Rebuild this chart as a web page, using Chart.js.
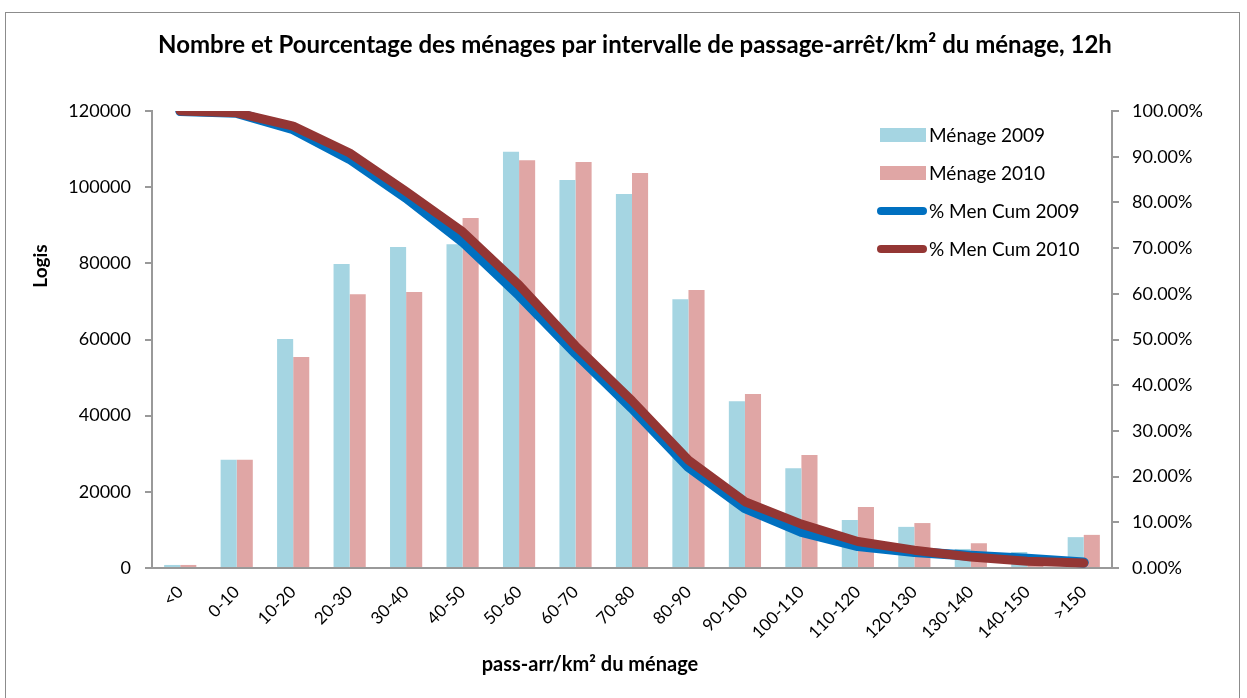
<!DOCTYPE html>
<html>
<head>
<meta charset="utf-8">
<script src="https://cdn.jsdelivr.net/npm/chart.js@4.4.1/dist/chart.umd.min.js"></script>
<style>
  html, body { margin: 0; padding: 0; background: #fff; }
  #wrap { position: relative; width: 1247px; height: 698px; overflow: hidden; }
  #frame { position: absolute; left: 5px; top: 12px; width: 1235px; height: 720px; border: 1px solid #8c8c8c; box-sizing: border-box; }
  #chart { position: absolute; left: 0; top: 0; }
</style>
</head>
<body>
<div id="wrap">
  <div id="frame"></div>
  <canvas id="chart" width="1247" height="698"></canvas>
</div>
<script>
// intervalles de passage-arret / km2
var categories = ['<0', '0-10', '10-20', '20-30', '30-40', '40-50', '50-60', '60-70', '70-80', '80-90',
  '90-100', '100-110', '110-120', '120-130', '130-140', '140-150', '>150'];

// nombre de menages (logis)
var menage2009 = [800, 28400, 60100, 79800, 84300, 85000, 109300, 101900, 98200, 70600,
  43800, 26200, 12600, 10800, 5000, 4200, 8100];
var menage2010 = [800, 28400, 55400, 71900, 72500, 91900, 107100, 106600, 103700, 73000,
  45700, 29700, 16000, 11800, 6500, 3400, 8700];

// pourcentage cumule des menages
var cum2009 = [100, 99.6, 96.0, 89.5, 81.0, 71.4, 59.7, 47.0, 35.0, 22.1,
  13.1, 7.9, 4.8, 3.5, 2.7, 2.0, 1.2];
var cum2010 = [100, 99.6, 96.7, 90.8, 82.4, 73.6, 61.9, 48.6, 36.6, 23.6,
  14.5, 9.6, 5.8, 3.9, 2.4, 1.5, 1.1];

var leftTicks = [0, 20000, 40000, 60000, 80000, 100000, 120000];

var FONT = 'Lato, "Open Sans", sans-serif';
var blueBar = '#a5d5e2';
var pinkBar = '#e0a6a5';
var blueLine = '#0070c0';
var brownLine = '#943634';

// limites de la zone de trace
var AREA_L = 152, AREA_R = 1112, AREA_T = 111, AREA_B = 568;

// legende dessinee dans la zone du graphique
var legendBox = {
  id: 'legendBox',
  afterDraw: function (chart) {
    var ctx = chart.ctx;
    var items = [
      { label: 'Ménage 2009', color: blueBar, type: 'box' },
      { label: 'Ménage 2010', color: pinkBar, type: 'box' },
      { label: '% Men Cum 2009', color: blueLine, type: 'line' },
      { label: '% Men Cum 2010', color: brownLine, type: 'line' }
    ];
    ctx.save();
    ctx.font = '19px ' + FONT;
    ctx.textBaseline = 'middle';
    items.forEach(function (it, i) {
      var y = 135 + i * 38;
      if (it.type === 'box') {
        ctx.fillStyle = it.color;
        ctx.fillRect(880, y - 7, 46, 14);
      } else {
        ctx.strokeStyle = it.color;
        ctx.lineWidth = 8;
        ctx.lineCap = 'round';
        ctx.beginPath();
        ctx.moveTo(881, y);
        ctx.lineTo(923, y);
        ctx.stroke();
      }
      ctx.fillStyle = '#000';
      ctx.fillText(it.label, 929, y + 1);
    });
    ctx.restore();
  }
};

// titre du graphique et titres des axes
var chartTexts = {
  id: 'chartTexts',
  afterDraw: function (chart) {
    var c = chart.ctx;
    c.save();
    c.fillStyle = '#000';
    c.textAlign = 'center';
    c.textBaseline = 'middle';
    c.font = 'bold 24px ' + FONT;
    c.fillText('Nombre et Pourcentage des ménages par intervalle de passage-arrêt/km² du ménage, 12h', 635, 45);
    c.font = 'bold 20px ' + FONT;
    c.fillText('pass-arr/km² du ménage', 590, 665);
    c.translate(41, 266);
    c.rotate(-Math.PI / 2);
    c.font = 'bold 19px ' + FONT;
    c.fillText('Logis', 0, 0);
    c.restore();
  }
};

var ctx = document.getElementById('chart');
var chart = new Chart(ctx, {
  type: 'bar',
  data: {
    labels: categories,
    datasets: [{
      label: '% Men Cum 2010',
      type: 'line',
      data: cum2010,
      yAxisID: 'y2',
      borderColor: brownLine,
      borderWidth: 9,
      pointRadius: 0,
      borderCapStyle: 'round',
      borderJoinStyle: 'round',
      tension: 0,
      order: 0
    }, {
      label: '% Men Cum 2009',
      type: 'line',
      data: cum2009,
      yAxisID: 'y2',
      borderColor: blueLine,
      borderWidth: 10,
      pointRadius: 0,
      borderCapStyle: 'round',
      borderJoinStyle: 'round',
      tension: 0,
      order: 1
    }, {
      label: 'Ménage 2009',
      data: menage2009,
      yAxisID: 'y',
      backgroundColor: blueBar,
      categoryPercentage: 0.57,
      barPercentage: 1,
      order: 2
    }, {
      label: 'Ménage 2010',
      data: menage2010,
      yAxisID: 'y',
      backgroundColor: pinkBar,
      categoryPercentage: 0.57,
      barPercentage: 1,
      order: 3
    }]
  },
  options: {
    responsive: false,
    animation: false,
    layout: { padding: { top: AREA_T, bottom: 0, left: 0, right: 0 } },
    plugins: {
      legend: { display: false },
      tooltip: { enabled: false },
      title: { display: false }
    },
    scales: {
      x: {
        grid: { display: false },
        border: { color: '#999', width: 2 },
        ticks: {
          color: '#000',
          font: { family: FONT, size: 17 },
          minRotation: 45,
          maxRotation: 45,
          padding: 6
        },
        afterFit: function (s) { s.height = 698 - AREA_B; }
      },
      y: {
        position: 'left',
        min: 0,
        max: 120000,
        afterBuildTicks: function (s) { s.ticks = leftTicks.map(function (v) { return { value: v }; }); },
        grid: { drawOnChartArea: false, color: '#999', lineWidth: 2, tickLength: 7 },
        border: { color: '#999', width: 2 },
        ticks: {
          color: '#000',
          font: { family: FONT, size: 18 },
          padding: 14,
          callback: function (v) { return String(v); }
        },
        afterFit: function (s) { s.width = AREA_L; }
      },
      y2: {
        position: 'right',
        min: 0,
        max: 100,
        grid: { drawOnChartArea: false, color: '#999', lineWidth: 2, tickLength: 7 },
        border: { color: '#999', width: 2 },
        ticks: {
          stepSize: 10,
          color: '#000',
          font: { family: FONT, size: 18 },
          padding: 13,
          callback: function (v) { return v.toFixed(2) + '%'; }
        },
        afterFit: function (s) { s.width = 1247 - AREA_R; }
      }
    }
  },
  plugins: [legendBox, chartTexts]
});
</script>
</body>
</html>
